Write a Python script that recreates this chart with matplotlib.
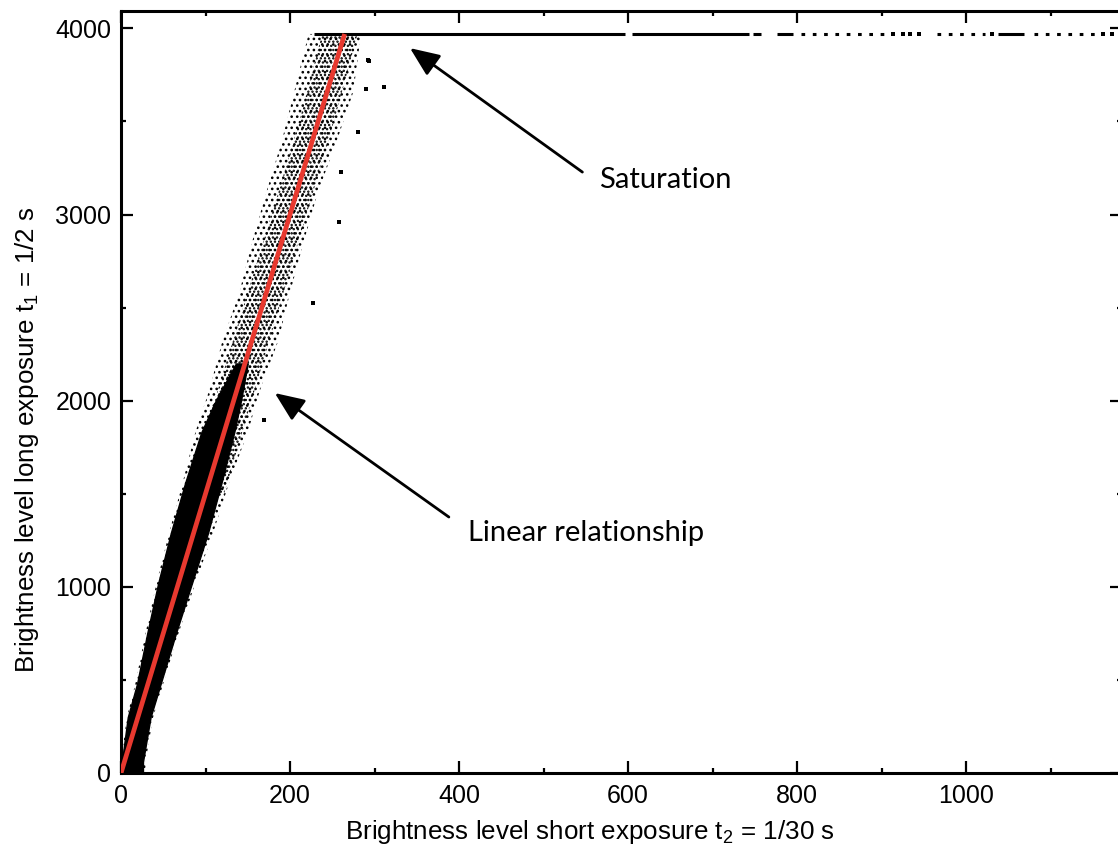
import matplotlib
matplotlib.use("Agg")
import matplotlib.pyplot as plt
from matplotlib import font_manager
from matplotlib.ticker import MultipleLocator

# ---- data -------------------------------------------------------------
t_long = 1 / 2          # s
t_short = 1 / 30        # s
saturation = 3970       # clipped brightness level of the long exposure

# outline of the point cloud (brightness levels)
env_y = [0, 60, 300, 480, 750, 1020, 1290, 1560, 1830, 2050, 2320, 2580, 2850, 3120, 3390, 3660, 3970]
env_left = [0, 0, 7, 17, 29, 42, 57, 73, 88, 104, 120, 140, 155, 172, 190, 205, 222]
env_right = [29, 29, 38, 50, 68, 88, 109, 128, 150, 164, 186, 200, 216, 233, 255, 275, 284]

# more crowded inner part of the upper cloud
mid_y = [1500, 1900, 2300, 2700, 3100, 3500, 3970]
mid_left = [80, 104, 131, 158, 185, 211, 238]
mid_right = [122, 148, 174, 200, 226, 252, 280]

# densely populated core of the cloud
core_y = [0, 60, 300, 480, 750, 1020, 1290, 1560, 1830, 2000, 2200]
core_left = [1, 1, 8, 19, 31, 44, 59, 76, 95, 112, 136]
core_right = [26, 26, 35, 47, 65, 84, 103, 119, 134, 142, 150]

# isolated pixels away from the cloud
out_x = [311, 258, 227, 292, 281, 260, 169, 290, 294]
out_y = [3685, 2960, 2525, 3830, 3443, 3228, 1896, 3674, 3824]

# clipped pixels along the saturation level
sat_solid = [(228, 597), (605, 743), (748, 757), (776, 795), (1038, 1069)]
sat_dotted = [(805, 903), (966, 1023), (1081, 1153)]
sat_dots = [913, 925, 934, 944, 1031, 1162, 1173]

x_ticks = [0, 200, 400, 600, 800, 1000]
y_ticks = [0, 1000, 2000, 3000, 4000]


def pick(names, fallback):
    have = {f.name for f in font_manager.fontManager.ttflist}
    for n in names:
        if n in have:
            return n
    return fallback


tick_font = pick(["Liberation Sans", "Arimo"], "DejaVu Sans")
label_font = pick(["Liberation Sans Narrow", "DejaVu Sans Condensed"], tick_font)
note_font = pick(["Lato", "Open Sans"], "DejaVu Sans")

plt.rcParams["hatch.linewidth"] = 1.1
plt.rcParams["hatch.color"] = "black"

W, H = 1118, 849
fig = plt.figure(figsize=(W / 100, H / 100), dpi=100)
ax = fig.add_axes([121 / W, (H - 773) / H, (1121.5 - 121) / W, (773 - 10.5) / H])

ax.set_xlim(0, 1184)
ax.set_ylim(0, 4096)

# point cloud
ax.fill_betweenx(env_y, env_left, env_right, facecolor="none", edgecolor="black",
                 hatch="...", linewidth=0, zorder=2)
ax.fill_betweenx(mid_y, mid_left, mid_right, facecolor="none", edgecolor="black",
                 hatch="....", linewidth=0, zorder=2)
ax.fill_betweenx(core_y, core_left, core_right, facecolor="black", edgecolor="black",
                 linewidth=1.0, zorder=3)
ax.scatter(out_x, out_y, s=5, marker="s", color="black", linewidths=0, zorder=3)

# saturation plateau
for a, b in sat_solid:
    ax.plot([a, b], [saturation, saturation], color="black", lw=2.2,
            solid_capstyle="butt", zorder=3)
for a, b in sat_dotted:
    ax.plot([a, b], [saturation, saturation], color="black", lw=2.2,
            linestyle=(0, (1.2, 2.5)), zorder=3)
ax.scatter(sat_dots, [saturation] * len(sat_dots), s=6, marker="s",
           color="black", linewidths=0, zorder=3)

# linear fit with slope given by the exposure ratio
ratio = t_long / t_short
ax.plot([0, saturation / ratio], [0, saturation], color="#e8392f", lw=3.4,
        solid_capstyle="butt", zorder=4)

# annotations
arrow = dict(arrowstyle="-|>,head_length=0.9,head_width=0.38", color="black",
             lw=2.0, shrinkA=0, shrinkB=0, mutation_scale=20)
ax.annotate("", xy=(342, 3894), xytext=(546, 3228), arrowprops=arrow, zorder=5)
ax.annotate("", xy=(182, 2041), xytext=(388, 1375), arrowprops=arrow, zorder=5)
ax.text(566, 3185, "Saturation", family=note_font, fontsize=21, va="center", ha="left")
ax.text(411, 1289, "Linear relationship", family=note_font, fontsize=21,
        va="center", ha="left")

# axes styling
for s in ax.spines.values():
    s.set_linewidth(2.2)
ax.xaxis.set_major_locator(MultipleLocator(200))
ax.xaxis.set_minor_locator(MultipleLocator(100))
ax.yaxis.set_major_locator(MultipleLocator(1000))
ax.yaxis.set_minor_locator(MultipleLocator(500))
ax.set_xticks(x_ticks)
ax.set_yticks(y_ticks)
ax.tick_params(which="both", direction="in", top=True, right=True, width=1.6)
ax.tick_params(which="major", length=8.6)
ax.tick_params(which="minor", length=3.8)
ax.tick_params(axis="x", pad=8)
ax.tick_params(axis="y", pad=7)
for lab in ax.get_xticklabels() + ax.get_yticklabels():
    lab.set_family(tick_font)
    lab.set_fontsize(18)

fig.text(590 / W, 1 - 832 / H,
         r"Brightness level short exposure $\mathregular{t_2}$ = 1/30 s",
         family=label_font, fontsize=18.7, ha="center", va="center")
fig.text(27 / W, 1 - 440 / H,
         r"Brightness level long exposure $\mathregular{t_1}$ = 1/2 s",
         family=label_font, fontsize=18.7, ha="center", va="center", rotation=90)

fig.savefig("out.png", dpi=100)
